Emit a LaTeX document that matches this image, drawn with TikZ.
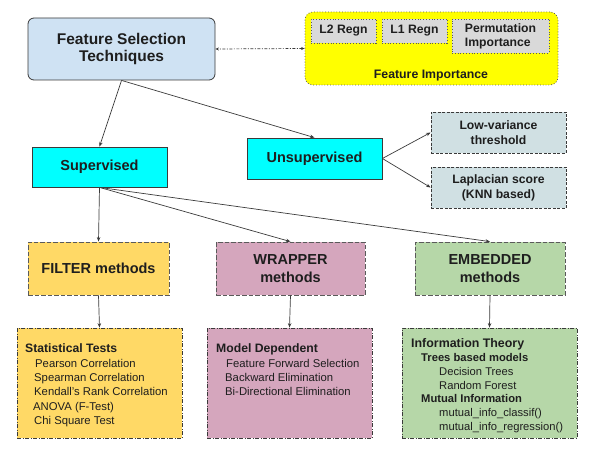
\documentclass[tikz,border=0pt]{standalone}
\usepackage{fontspec}
\setmainfont{Liberation Sans}
\usetikzlibrary{arrows.meta}
\definecolor{textcol}{HTML}{1E1E1E}
\definecolor{linecol}{HTML}{3A3A3A}
\definecolor{dashcol}{HTML}{5A5A5A}
\definecolor{fstblue}{HTML}{CFE2F3}
\definecolor{cyanbox}{HTML}{00FFFF}
\definecolor{unsupgray}{HTML}{D0E0E3}
\definecolor{filteryel}{HTML}{FFD966}
\definecolor{wrappink}{HTML}{D5A6BD}
\definecolor{embedgreen}{HTML}{B6D7A8}
\definecolor{fiyellow}{HTML}{FFFF00}
\definecolor{regngray}{HTML}{D9D9D9}
\tikzset{
	box/.style={inner sep=0pt, align=center, text=textcol, line width=0.8pt},
	titlebox/.style={box, draw=linecol, fill=fstblue, rounded corners=6pt,
		font=\fontsize{15.5}{17.7}\selectfont\bfseries},
	learnbox/.style={box, draw=linecol, fill=cyanbox,
		font=\fontsize{14.5}{18}\selectfont\bfseries},
	unsupbox/.style={box, draw=linecol, fill=unsupgray, dash pattern=on 3pt off 1.5pt,
		font=\fontsize{12.2}{15}\selectfont\bfseries},
	methodbox/.style={box, draw=dashcol, dash pattern=on 4.5pt off 2pt,
		font=\fontsize{14.5}{18}\selectfont\bfseries},
	listbox/.style={box, draw=linecol, dash pattern=on 4pt off 1.5pt on 1pt off 1.5pt},
	listtext/.style={inner sep=0pt, anchor=north west, align=left, text=textcol,
		font=\fontsize{11.3}{14.4}\selectfont},
	regnbox/.style={box, draw=dashcol, fill=regngray, dotted,
		font=\fontsize{12.2}{14}\selectfont\bfseries},
	arr/.style={draw=linecol, line width=0.7pt, -{Stealth[length=4.5pt,width=3.5pt]}}
}
\begin{document}
\begin{tikzpicture}[x=1pt,y=-1pt]
	\useasboundingbox (0,0) rectangle (601,462);
	% top row
	\node[titlebox, minimum width=187pt, minimum height=62pt] (fst) at (121.5,49)
		{Feature Selection\\Techniques};
	\node[box, draw=dashcol, fill=fiyellow, dotted, rounded corners=8pt,
		minimum width=253pt, minimum height=73pt] (fi) at (431.5,48.5) {};
	\node[regnbox, minimum width=65pt, minimum height=24pt] (l2) at (343.5,31) {L2 Regn};
	\node[regnbox, minimum width=65pt, minimum height=24pt] (l1) at (414.5,31) {L1 Regn};
	\node[regnbox, minimum width=97pt, minimum height=34pt, align=left] (perm) at (500.5,36)
		{Permutation\\Importance};
	\node[box, font=\fontsize{12.3}{14}\selectfont\bfseries] (filabel) at (431,76)
		{Feature Importance};
	\draw[draw=linecol, line width=0.7pt, dash pattern=on 3pt off 1.5pt on 1pt off 1.5pt,
		{Stealth[length=3.5pt,width=3pt]}-{Stealth[length=3.5pt,width=3pt]}] (fi.west) -- (fst.east);
	% learning types
	\node[learnbox, minimum width=135pt, minimum height=40pt] (sup) at (99.5,167) {Supervised};
	\node[learnbox, minimum width=135pt, minimum height=41pt] (unsup) at (314.5,158.5) {Unsupervised};
	\node[unsupbox, minimum width=135pt, minimum height=41pt] (lowvar) at (498.5,132.5)
		{Low-variance\\threshold};
	\node[unsupbox, minimum width=135pt, minimum height=41pt] (lap) at (498.5,187.5)
		{Laplacian score\\(KNN based)};
	\draw[arr] (fst.south) -- (sup.north);
	\draw[arr] (fst.south) -- (unsup.north);
	\draw[arr] (unsup.east) -- (lowvar.west);
	\draw[arr] (unsup.east) -- (lap.west);
	% methods
	\node[methodbox, fill=filteryel, minimum width=141pt, minimum height=53pt] (filter)
		at (98.5,268.5) {FILTER methods};
	\node[methodbox, fill=wrappink, minimum width=149pt, minimum height=53pt] (wrapper)
		at (290.5,268.5) {WRAPPER\\methods};
	\node[methodbox, fill=embedgreen, minimum width=150pt, minimum height=53pt] (embedded)
		at (490,268.5) {EMBEDDED\\methods};
	\foreach \m in {filter,wrapper,embedded}
		\draw[arr] (sup.south) -- (\m.north);
	% lists
	\node[listbox, fill=filteryel, minimum width=165pt, minimum height=110pt] (statbox)
		at (99.5,383) {};
	\node[listbox, fill=wrappink, minimum width=165pt, minimum height=110pt] (modelbox)
		at (289.5,383) {};
	\node[listbox, fill=embedgreen, minimum width=175pt, minimum height=110pt] (infobox)
		at (489.5,383) {};
	\node[listtext] (stattext) at (25,343.6)
		{{\fontsize{12.2}{14.4}\selectfont\bfseries Statistical Tests}\\
		\hspace*{10pt}Pearson Correlation\\
		\hspace*{9pt}Spearman Correlation\\
		\hspace*{9pt}Kendall’s Rank Correlation\\
		\hspace*{8pt}ANOVA (F-Test)\\
		\hspace*{9pt}Chi Square Test};
	\node[listtext] (modeltext) at (216,343.6)
		{{\fontsize{12.2}{14.4}\selectfont\bfseries Model Dependent}\\
		\hspace*{10pt}Feature Forward Selection\\
		\hspace*{9pt}Backward Elimination\\
		\hspace*{9pt}Bi-Directional Elimination};
	\node[listtext, font=\fontsize{11.2}{13.8}\selectfont] (infotext) at (411,338.5)
		{{\fontsize{12.4}{13.8}\selectfont\bfseries Information Theory}\\
		\hspace*{10pt}{\bfseries Trees based models}\\
		\hspace*{28pt}Decision Trees\\
		\hspace*{28pt}Random Forest\\
		\hspace*{10pt}{\bfseries Mutual Information}\\
		\hspace*{28pt}mutual\_info\_classif()\\
		\hspace*{28pt}mutual\_info\_regression()};
	\draw[arr] (filter.south) -- (statbox.north);
	\draw[arr] (wrapper.south) -- (modelbox.north);
	\draw[arr] (embedded.south) -- (infobox.north);
\end{tikzpicture}
\end{document}
